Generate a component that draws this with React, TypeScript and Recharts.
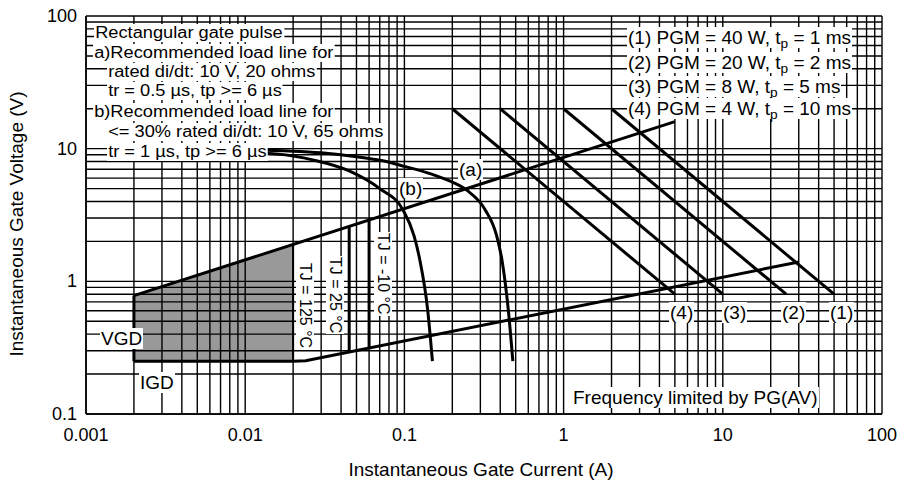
import React from 'react';
import { ComposedChart, Line, Area, XAxis, YAxis, CartesianGrid } from 'recharts';

// grid positions (log decades with 1..9 subdivisions)
const xTicks = [
  0.001, 0.002, 0.003, 0.004, 0.005, 0.006, 0.007, 0.008, 0.009,
  0.01, 0.02, 0.03, 0.04, 0.05, 0.06, 0.07, 0.08, 0.09,
  0.1, 0.2, 0.3, 0.4, 0.5, 0.6, 0.7, 0.8, 0.9,
  1, 2, 3, 4, 5, 6, 7, 8, 9,
  10, 20, 30, 40, 50, 60, 70, 80, 90,
  100,
];
const yTicks = [
  0.1, 0.2, 0.3, 0.4, 0.5, 0.6, 0.7, 0.8, 0.9,
  1, 2, 3, 4, 5, 6, 7, 8, 9,
  10, 20, 30, 40, 50, 60, 70, 80, 90,
  100,
];
const xDecades = [0.001, 0.01, 0.1, 1, 10, 100];
const xDecadeLabels = ['0.001', '0.01', '0.1', '1', '10', '100'];
const yDecades = [0.1, 1, 10, 100];
const yDecadeLabels = ['0.1', '1', '10', '100'];

// gate current (A) / gate voltage (V)
const upperI = [0.002, 5];
const upperV = [0.78, 16];

const lowerI = [0.002, 0.02, 0.024, 30];
const lowerV = [0.25, 0.25, 0.252, 1.4];

const vgdI = [0.002, 0.002];
const vgdV = [0.25, 0.78];

const tj125I = [0.02, 0.02];
const tj125V = [0.25, 1.9];
const tj25I = [0.045, 0.045];
const tj25V = [0.29, 2.6];
const tjm10I = [0.06, 0.06];
const tjm10V = [0.31, 2.9];

const shadeI = [0.002, 0.02];
const shadeLow = [0.25, 0.25];
const shadeHigh = [0.78, 1.9];

const curveAI = [0.01, 0.03, 0.05, 0.073, 0.094, 0.15, 0.2, 0.25, 0.32, 0.38, 0.41, 0.45, 0.48];
const curveAV = [9.8, 9.3, 8.7, 8.1, 7.5, 6.4, 5.6, 4.8, 3.5, 2.2, 1.45, 0.6, 0.25];

const curveBI = [0.01, 0.02, 0.027, 0.045, 0.07, 0.098, 0.115, 0.125, 0.14, 0.15];
const curveBV = [9.4, 8.8, 8.2, 6.8, 5.0, 3.45, 2.2, 1.45, 0.61, 0.25];

const pgm1I = [2, 50];
const pgm1V = [20, 0.8];
const pgm2I = [1, 25];
const pgm2V = [20, 0.8];
const pgm3I = [0.4, 10];
const pgm3V = [20, 0.8];
const pgm4I = [0.2, 5];
const pgm4V = [20, 0.8];

const zip = (xs: number[], ys: number[]) => xs.map((x, i) => ({ x, y: ys[i] }));

const font = "'Liberation Sans', Arial, Helvetica, sans-serif";

const XTick = (props: any) => {
  const { x, y, payload } = props;
  const i = xDecades.indexOf(payload.value);
  if (i < 0) return <g />;
  return (
    <text x={x} y={y} dy={27} textAnchor="middle" fontSize={18} fill="#000" fontFamily={font}>
      {xDecadeLabels[i]}
    </text>
  );
};

const YTick = (props: any) => {
  const { x, y, payload } = props;
  const i = yDecades.indexOf(payload.value);
  if (i < 0) return <g />;
  return (
    <text x={x} y={y} dx={-9} dy={6} textAnchor="end" fontSize={18} fill="#000" fontFamily={font}>
      {yDecadeLabels[i]}
    </text>
  );
};

// annotation boxes, placed in page pixels
const Note = ({ left, cy, size = 19, scale = 1, children }: any) => {
  const h = Math.round(size * 1.1);
  return (
    <div
      style={{
        position: 'absolute',
        left,
        top: cy - h / 2,
        height: h,
        lineHeight: `${h}px`,
        fontSize: size,
        fontFamily: font,
        background: '#fff',
        whiteSpace: 'nowrap',
        padding: '0 1px',
        transform: scale !== 1 ? `scaleX(${scale})` : undefined,
        transformOrigin: 'left center',
      }}
    >
      {children}
    </div>
  );
};

const VNote = ({ cx, top, children }: any) => (
  <div
    style={{
      position: 'absolute',
      left: cx - 9,
      top,
      width: 18,
      writingMode: 'vertical-rl',
      fontSize: 16,
      lineHeight: '18px',
      fontFamily: font,
      background: '#fff',
      whiteSpace: 'nowrap',
      padding: '1px 0',
    }}
  >
    {children}
  </div>
);

const Sub = ({ children }: any) => (
  <span style={{ fontSize: '0.72em', verticalAlign: '-0.3em', lineHeight: 0 }}>{children}</span>
);

export default function App() {
  const thick = { stroke: '#000', strokeWidth: 3, dot: false, isAnimationActive: false, type: 'linear' as const };
  const shade = shadeI.map((x, i) => ({ x, y: [shadeLow[i], shadeHigh[i]] }));

  return (
    <div style={{ position: 'absolute', left: 0, top: 0, width: 901, height: 485, background: '#fff' }}>
      <ComposedChart width={901} height={485} margin={{ top: 16, right: 19, bottom: 41, left: 16 }}>
        <CartesianGrid stroke="#000" strokeWidth={1.4} />
        <XAxis
          dataKey="x"
          type="number"
          scale="log"
          domain={[0.001, 100]}
          ticks={xTicks}
          interval={0}
          allowDataOverflow
          tickLine={false}
          tickSize={0}
          tickMargin={0}
          height={30}
          axisLine={{ stroke: '#000', strokeWidth: 1.5 }}
          tick={<XTick />}
        />
        <YAxis
          dataKey="y"
          type="number"
          scale="log"
          domain={[0.1, 100]}
          ticks={yTicks}
          interval={0}
          allowDataOverflow
          tickLine={false}
          tickSize={0}
          tickMargin={0}
          width={70}
          axisLine={{ stroke: '#000', strokeWidth: 1.5 }}
          tick={<YTick />}
        />
        <Area
          data={shade}
          dataKey="y"
          type="linear"
          fill="#000"
          fillOpacity={0.4}
          stroke="none"
          isAnimationActive={false}
        />
        <Line data={zip(upperI, upperV)} dataKey="y" {...thick} />
        <Line data={zip(lowerI, lowerV)} dataKey="y" {...thick} />
        <Line data={zip(vgdI, vgdV)} dataKey="y" {...thick} />
        <Line data={zip(tj125I, tj125V)} dataKey="y" {...thick} strokeWidth={2} />
        <Line data={zip(tj25I, tj25V)} dataKey="y" {...thick} />
        <Line data={zip(tjm10I, tjm10V)} dataKey="y" {...thick} />
        <Line data={zip(curveAI, curveAV)} dataKey="y" {...thick} type="monotone" />
        <Line data={zip(curveBI, curveBV)} dataKey="y" {...thick} type="monotone" />
        <Line data={zip(pgm1I, pgm1V)} dataKey="y" {...thick} />
        <Line data={zip(pgm2I, pgm2V)} dataKey="y" {...thick} />
        <Line data={zip(pgm3I, pgm3V)} dataKey="y" {...thick} />
        <Line data={zip(pgm4I, pgm4V)} dataKey="y" {...thick} />
      </ComposedChart>

      {/* load line notes */}
      <Note left={94} cy={33} size={16} scale={1.14}>Rectangular gate pulse</Note>
      <Note left={93} cy={53} size={16} scale={1.14}>a)Recommended load line for</Note>
      <Note left={107} cy={72} size={16} scale={1.14}>rated di/dt: 10 V, 20 ohms</Note>
      <Note left={107} cy={91} size={16} scale={1.14}>tr = 0.5 µs, tp &gt;= 6 µs</Note>
      <Note left={93} cy={112} size={16} scale={1.14}>b)Recommended load line for</Note>
      <Note left={107} cy={132} size={16} scale={1.14}>&lt;= 30% rated di/dt: 10 V, 65 ohms</Note>
      <Note left={107} cy={152} size={16} scale={1.14}>tr = 1 µs, tp &gt;= 6 µs</Note>

      {/* peak gate power legend */}
      <Note left={627} cy={37}>(1) PGM = 40 W, t<Sub>p</Sub> = 1 ms</Note>
      <Note left={627} cy={62}>(2) PGM = 20 W, t<Sub>p</Sub> = 2 ms</Note>
      <Note left={627} cy={86}>(3) PGM = 8 W, t<Sub>p</Sub> = 5 ms</Note>
      <Note left={627} cy={108}>(4) PGM = 4 W, t<Sub>p</Sub> = 10 ms</Note>

      <Note left={458} cy={169}>(a)</Note>
      <Note left={398} cy={188}>(b)</Note>

      <Note left={669} cy={312}>(4)</Note>
      <Note left={722} cy={312}>(3)</Note>
      <Note left={781} cy={312}>(2)</Note>
      <Note left={829} cy={312}>(1)</Note>

      <VNote cx={305} top={262}>TJ = 125 °C</VNote>
      <VNote cx={335} top={256}>TJ = 25 °C</VNote>
      <VNote cx={383} top={232}>TJ = -10 °C</VNote>

      <Note left={100} cy={338}>VGD</Note>
      <Note left={139} cy={382}>IGD</Note>

      <Note left={572} cy={397}>Frequency limited by PG(AV)</Note>

      <div
        style={{
          position: 'absolute',
          left: 481 - 150,
          width: 300,
          top: 470 - 11,
          textAlign: 'center',
          fontSize: 19,
          lineHeight: '22px',
          fontFamily: font,
        }}
      >
        Instantaneous Gate Current (A)
      </div>
      <div
        style={{
          position: 'absolute',
          left: 17 - 150,
          width: 300,
          top: 224 - 11,
          textAlign: 'center',
          fontSize: 19,
          lineHeight: '22px',
          fontFamily: font,
          transform: 'rotate(-90deg)',
        }}
      >
        Instantaneous Gate Voltage (V)
      </div>
    </div>
  );
}
